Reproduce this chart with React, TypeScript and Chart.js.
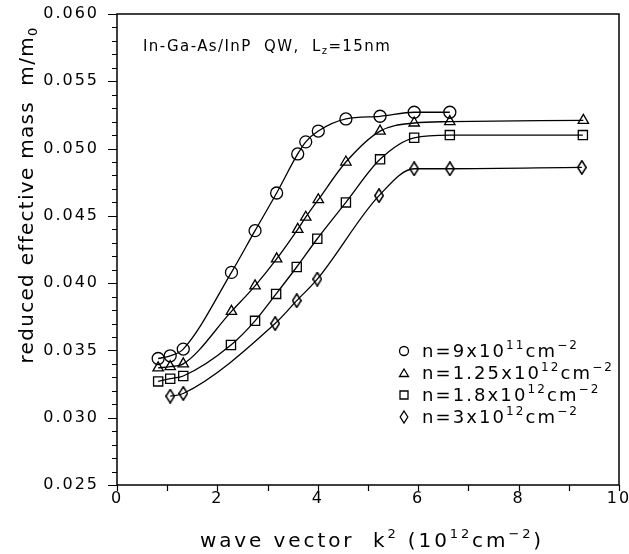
import React, { useEffect, useRef } from 'react';
import { Chart, registerables } from 'chart.js';

Chart.register(...registerables);

// ---- data (k^2 in 1e12 cm^-2, reduced effective mass m/m0) ----
const kCircle = [0.82, 1.06, 1.32, 2.28, 2.75, 3.18, 3.60, 3.76, 4.01, 4.56, 5.24, 5.92, 6.63];
const mCircle = [0.0344, 0.0346, 0.0351, 0.0408, 0.0439, 0.0467, 0.0496, 0.0505, 0.0513, 0.0522, 0.0524, 0.0527, 0.0527];

const kTriangle = [0.82, 1.06, 1.32, 2.28, 2.75, 3.18, 3.60, 3.76, 4.01, 4.56, 5.24, 5.92, 6.63, 9.29];
const mTriangle = [0.0337, 0.0338, 0.0340, 0.0379, 0.0398, 0.0418, 0.0440, 0.0449, 0.0462, 0.0490, 0.0513, 0.0519, 0.0520, 0.0521];

const kSquare = [0.82, 1.06, 1.32, 2.27, 2.75, 3.17, 3.58, 3.99, 4.56, 5.24, 5.92, 6.63, 9.28];
const mSquare = [0.0327, 0.0329, 0.0331, 0.0354, 0.0372, 0.0392, 0.0412, 0.0433, 0.0460, 0.0492, 0.0508, 0.0510, 0.0510];

const kDiamond = [1.06, 1.32, 3.15, 3.58, 3.99, 5.22, 5.92, 6.63, 9.26];
const mDiamond = [0.0316, 0.0318, 0.0370, 0.0387, 0.0403, 0.0465, 0.0485, 0.0485, 0.0486];

const legendBase = ['n=9x10', 'n=1.25x10', 'n=1.8x10', 'n=3x10'];
const legendExp = ['11', '12', '12', '12'];
const legendUnit = 'cm';
const legendUnitExp = '\u22122';

const yTickLabels = ['0.025', '0.030', '0.035', '0.040', '0.045', '0.050', '0.055', '0.060'];
const xTickLabels = ['0', '2', '4', '6', '8', '10'];

const FONT = '"DejaVu Sans", sans-serif';

type Seg = { t: string; size: number; dy: number };

function drawRich(ctx: CanvasRenderingContext2D, segs: Seg[], x: number, y: number, align: 'left' | 'center', spacing: number) {
  ctx.save();
  (ctx as any).letterSpacing = spacing + 'px';
  ctx.textAlign = 'left';
  ctx.textBaseline = 'alphabetic';
  ctx.fillStyle = '#000';
  const widths = segs.map((s) => {
    ctx.font = `${s.size}px ${FONT}`;
    return ctx.measureText(s.t).width;
  });
  const total = widths.reduce((a, b) => a + b, 0);
  let cx = align === 'center' ? x - total / 2 : x;
  segs.forEach((s, i) => {
    ctx.font = `${s.size}px ${FONT}`;
    ctx.fillText(s.t, cx, y + s.dy);
    cx += widths[i];
  });
  ctx.restore();
}

function makeDiamond(w: number, h: number, lw: number) {
  const c = document.createElement('canvas');
  c.width = w;
  c.height = h;
  const g = c.getContext('2d')!;
  g.strokeStyle = '#000';
  g.lineWidth = lw;
  g.beginPath();
  g.moveTo(w / 2, lw / 2);
  g.lineTo(w - lw / 2, h / 2);
  g.lineTo(w / 2, h - lw / 2);
  g.lineTo(lw / 2, h / 2);
  g.closePath();
  g.stroke();
  return c;
}

function drawMarker(ctx: CanvasRenderingContext2D, kind: number, x: number, y: number) {
  ctx.save();
  ctx.strokeStyle = '#000';
  ctx.lineWidth = 1.3;
  ctx.beginPath();
  if (kind === 0) {
    ctx.arc(x, y, 4.5, 0, Math.PI * 2);
  } else if (kind === 1) {
    ctx.moveTo(x, y - 4);
    ctx.lineTo(x + 4.5, y + 3.5);
    ctx.lineTo(x - 4.5, y + 3.5);
    ctx.closePath();
  } else if (kind === 2) {
    ctx.rect(x - 4, y - 4, 8, 8);
  } else {
    ctx.moveTo(x, y - 6);
    ctx.lineTo(x + 3.8, y);
    ctx.lineTo(x, y + 6);
    ctx.lineTo(x - 3.8, y);
    ctx.closePath();
  }
  ctx.stroke();
  ctx.restore();
}

const decorPlugin = {
  id: 'decor',
  beforeDraw(chart: any) {
    chart.ctx.letterSpacing = '2px';
  },
  beforeDatasetsDraw(chart: any) {
    chart.ctx.letterSpacing = '0px';
  },
  afterDraw(chart: any) {
    const ctx: CanvasRenderingContext2D = chart.ctx;
    const { left, right, top, bottom } = chart.chartArea;
    const xs = chart.scales.x;
    const ys = chart.scales.y;
    ctx.save();
    (ctx as any).letterSpacing = '0px';
    ctx.strokeStyle = '#000';
    ctx.lineWidth = 1.5;
    ctx.strokeRect(left, top, right - left, bottom - top);
    ctx.lineWidth = 1.2;
    ctx.beginPath();
    for (let i = 0; i <= 35; i++) {
      const py = Math.round(ys.getPixelForValue(0.025 + i * 0.001)) + 0.5;
      const len = i % 5 === 0 ? 9 : 5;
      ctx.moveTo(left - len, py);
      ctx.lineTo(left, py);
    }
    for (let i = 0; i <= 10; i++) {
      const px = Math.round(xs.getPixelForValue(i)) + 0.5;
      ctx.moveTo(px, bottom);
      ctx.lineTo(px, bottom + 6);
    }
    ctx.stroke();
    ctx.restore();

    // inner title
    drawRich(ctx, [
      { t: 'In-Ga-As/InP  QW,  L', size: 15, dy: 0 },
      { t: 'z', size: 10, dy: 3 },
      { t: '=15nm', size: 15, dy: 0 },
    ], 143, 51, 'left', 1.4);

    // x axis title
    drawRich(ctx, [
      { t: 'wave vector  k', size: 20, dy: 0 },
      { t: '2', size: 13, dy: -9 },
      { t: ' (10', size: 20, dy: 0 },
      { t: '12', size: 13, dy: -9 },
      { t: 'cm', size: 20, dy: 0 },
      { t: '\u22122', size: 13, dy: -9 },
      { t: ')', size: 20, dy: 0 },
    ], 372, 547, 'center', 2.9);

    // y axis title (rotated)
    ctx.save();
    ctx.translate(33, 195);
    ctx.rotate(-Math.PI / 2);
    drawRich(ctx, [
      { t: 'reduced effective mass  m/m', size: 20, dy: 0 },
      { t: '0', size: 13, dy: 4 },
    ], 0, 0, 'center', 1.3);
    ctx.restore();

    // legend
    const rows = [351, 373, 395, 417];
    rows.forEach((ry, i) => {
      drawMarker(ctx, i, 404, ry);
      drawRich(ctx, [
        { t: legendBase[i], size: 18, dy: 0 },
        { t: legendExp[i], size: 12, dy: -8 },
        { t: legendUnit, size: 18, dy: 0 },
        { t: legendUnitExp, size: 12, dy: -8 },
      ], 422, ry + 6, 'left', 2.1);
    });
  },
};

export default function App() {
  const ref = useRef<HTMLCanvasElement>(null);
  useEffect(() => {
    document.body.style.margin = '0';
    const diamond = makeDiamond(10, 15, 1.5);
    const toPts = (xs: number[], ys: number[]) => xs.map((x, i) => ({ x, y: ys[i] }));
    const common = {
      borderColor: '#000',
      borderWidth: 1.3,
      pointBorderColor: '#000',
      pointBackgroundColor: 'rgba(0,0,0,0)',
      pointBorderWidth: 1.3,
      cubicInterpolationMode: 'monotone' as const,
      fill: false,
    };
    const chart = new Chart(ref.current!, {
      type: 'line',
      data: {
        datasets: [
          { ...common, label: 'n=9x10^11', data: toPts(kCircle, mCircle), pointStyle: 'circle', pointRadius: 6 },
          { ...common, label: 'n=1.25x10^12', data: toPts(kTriangle, mTriangle), pointStyle: 'triangle', pointRadius: 6 },
          { ...common, label: 'n=1.8x10^12', data: toPts(kSquare, mSquare), pointStyle: 'rect', pointRadius: 6.5 },
          { ...common, label: 'n=3x10^12', data: toPts(kDiamond, mDiamond), pointStyle: diamond as any, pointRadius: 7 },
        ],
      },
      options: {
        animation: false,
        responsive: false,
        maintainAspectRatio: false,
        layout: { padding: { top: 14, right: 10, left: 0, bottom: 0 } },
        plugins: { legend: { display: false }, tooltip: { enabled: false } },
        scales: {
          x: {
            type: 'linear',
            min: 0,
            max: 10,
            afterFit: (s: any) => { s.height = 69; s.paddingLeft = 0; s.paddingRight = 0; },
            afterBuildTicks: (s: any) => { s.ticks = xTickLabels.map((t) => ({ value: Number(t) })); },
            grid: { display: false, drawTicks: false },
            border: { display: false },
            ticks: {
              padding: 4,
              color: '#000',
              font: { family: 'DejaVu Sans', size: 16 },
              maxRotation: 0,
              callback: (v: any) => String(v),
            },
          },
          y: {
            type: 'linear',
            min: 0.025,
            max: 0.060,
            afterFit: (s: any) => { s.width = 117; s.paddingTop = 0; s.paddingBottom = 0; },
            afterBuildTicks: (s: any) => { s.ticks = yTickLabels.map((t) => ({ value: Number(t) })); },
            grid: { display: false, drawTicks: false },
            border: { display: false },
            ticks: {
              padding: 18,
              color: '#000',
              font: { family: 'DejaVu Sans', size: 16 },
              callback: (v: any) => Number(v).toFixed(3),
            },
          },
        },
      },
      plugins: [decorPlugin],
    });
    return () => chart.destroy();
  }, []);
  return (
    <div style={{ width: 629, height: 554, background: '#fff' }}>
      <canvas ref={ref} width={629} height={554} style={{ display: 'block', width: 629, height: 554 }} />
    </div>
  );
}
